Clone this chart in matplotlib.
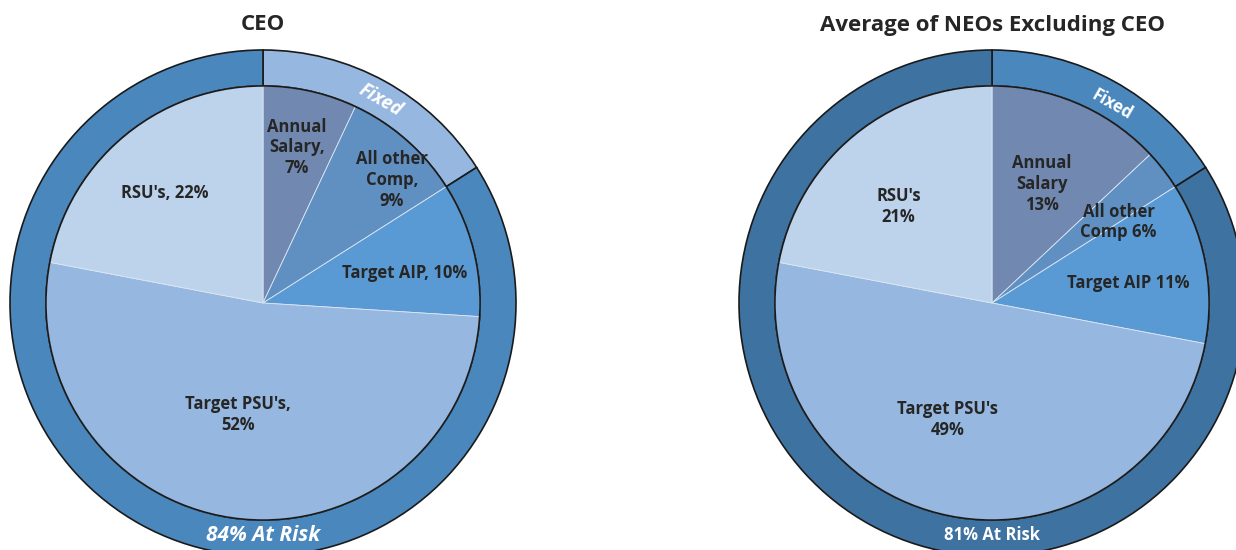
import matplotlib
matplotlib.use("Agg")
import matplotlib.pyplot as plt

plt.rcParams["font.family"] = ["Open Sans", "DejaVu Sans"]

# inner pie data (clockwise from 12 o'clock)
ceo_labels = ["Annual\nSalary,\n7%", "All other\nComp,\n9%", "Target AIP, 10%", "Target PSU's,\n52%", "RSU's, 22%"]
ceo_values = [7, 9, 10, 52, 22]
neo_labels = ["Annual\nSalary\n13%", "All other\nComp 6%", "Target AIP 11%", "Target PSU's\n49%", "RSU's\n21%"]
# slice sizes as drawn in the source picture (they differ a little from the printed labels)
neo_values = [13, 3, 12, 50, 22]

# outer ring data
ceo_ring_labels = ["Fixed", "84% At Risk"]
neo_ring_labels = ["Fixed", "81% At Risk"]
ceo_ring = [16, 84]
neo_ring = [16, 84]

titles = ["CEO", "Average of NEOs Excluding CEO"]

inner_colors = ["#7189b0", "#6090c2", "#5a9ad4", "#96b7df", "#bdd3ec"]
ceo_ring_colors = ["#96b7df", "#4a87bd"]
neo_ring_colors = ["#4a87bd", "#3e72a0"]

# label positions (axes units, radius 1)
ceo_pos = [(0.135, 0.615), (0.51, 0.485), (0.56, 0.12), (-0.10, -0.44), (-0.39, 0.435)]
neo_pos = [(0.198, 0.47), (0.50, 0.32), (0.54, 0.08), (-0.175, -0.46), (-0.37, 0.38)]

W, H = 1236, 550
R = 253
INNER = 0.858

fig = plt.figure(figsize=(W / 100, H / 100), dpi=100)


def draw(cx, cy, values, labels, pos, ring, ring_labels, ring_colors, italic, title):
    ax = fig.add_axes([(cx - R) / W, (H - cy - R) / H, 2 * R / W, 2 * R / H])

    ring_w, _ = ax.pie(ring, radius=1.0, startangle=90, counterclock=False,
                       colors=ring_colors,
                       wedgeprops=dict(width=1 - INNER, edgecolor="#1a1a1a", linewidth=1.2))
    pie_w, _ = ax.pie(values, radius=INNER, startangle=90, counterclock=False,
                      colors=inner_colors,
                      wedgeprops=dict(edgecolor="#dce6f2", linewidth=0.6))
    for w in ring_w + pie_w:
        w.set_clip_on(False)
    circ = plt.Circle((0, 0), INNER, fill=False, edgecolor="#1a1a1a", linewidth=1.2, clip_on=False)
    ax.add_patch(circ)

    ax.set_xlim(-1, 1)
    ax.set_ylim(-1, 1)
    ax.set_aspect("equal")
    ax.axis("off")

    for lab, (x, y) in zip(labels, pos):
        ax.text(x, y, lab, ha="center", va="center", fontsize=12, fontweight="bold",
                color="#262626", linespacing=1.2)

    style = "italic" if italic else "normal"
    fx, fy = (0.462, 0.80) if italic else (0.474, 0.785)
    ax.text(fx, fy, ring_labels[0], rotation=-30, ha="center", va="center",
            fontsize=13.5 if italic else 12, fontweight="bold", style=style, color="white")
    ax.text(0, -0.918, ring_labels[1], ha="center", va="center",
            fontsize=15 if italic else 12, fontweight="bold", style=style, color="white",
            clip_on=False)

    fig.text(cx / W, 1 - 25 / H, title, ha="center", va="center",
             fontsize=16, fontweight="bold", color="#262626")


draw(263, 303, ceo_values, ceo_labels, ceo_pos, ceo_ring, ceo_ring_labels, ceo_ring_colors, True, titles[0])
draw(992, 303, neo_values, neo_labels, neo_pos, neo_ring, neo_ring_labels, neo_ring_colors, False, titles[1])

fig.savefig("out.png", dpi=100)
